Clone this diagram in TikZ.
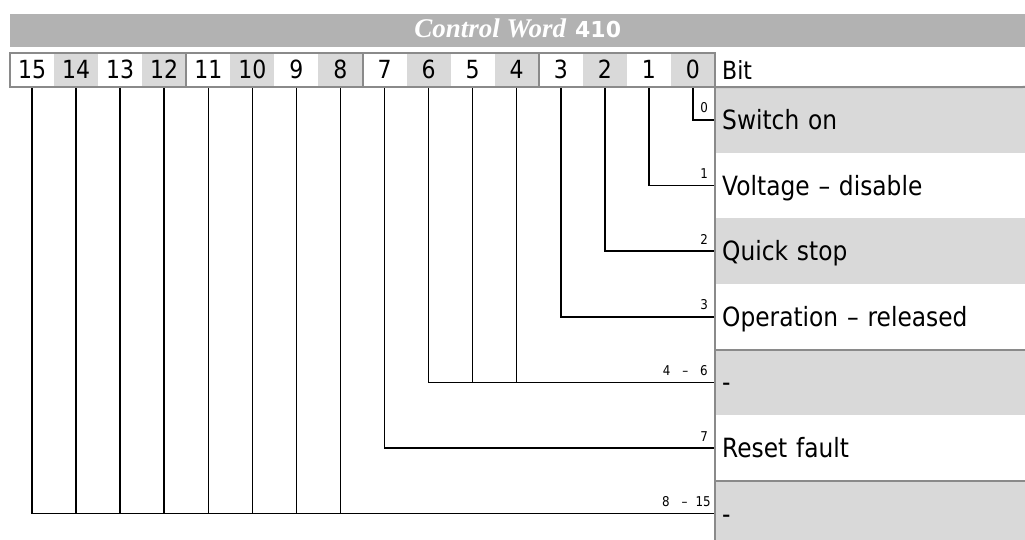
\documentclass[tikz,border=0pt]{standalone}
\usepackage{fontspec}
\setmainfont{DejaVu Sans}[FakeStretch=0.88]
\newfontfamily\titlefont{Liberation Serif}
\newfontfamily\titlenum{DejaVu Sans}
\definecolor{titlegray}{RGB}{178,178,178}
\definecolor{cellgray}{RGB}{217,217,217}
\definecolor{bordergray}{RGB}{138,138,138}
\tikzset{
  bitcell/.style={minimum width=44.0625pt, minimum height=34pt, inner sep=0pt,
    font=\fontsize{25}{28}\selectfont, text height=18pt, text depth=0pt},
  rowcell/.style={anchor=north west, minimum height=65.6pt, text width=296pt,
    inner xsep=7pt, inner ysep=0pt, align=left,
    font=\fontsize{26.5}{30}\selectfont, text height=19pt, text depth=0pt},
  conn/.style={line width=1.5pt, black},
  frame/.style={line width=2pt, bordergray},
  lbl/.style={anchor=base east, inner sep=0pt, font=\fontsize{13.5}{15}\selectfont},
}
\begin{document}
\begin{tikzpicture}[x=1pt,y=1pt]
\useasboundingbox (0,0) rectangle (1025,-540);
\clip (0,0) rectangle (1025,-540);
% title bar
\node[fill=titlegray, minimum width=1015pt, minimum height=33pt, anchor=north west,
  inner sep=0pt, text=white, text height=14pt, text depth=0pt] (title) at (10,-14)
  {{\titlefont\bfseries\itshape\fontsize{27}{30}\selectfont Control Word}\hspace{9pt}{\titlenum\bfseries\fontsize{22}{26}\selectfont 410}};
% right rows
\node[rowcell, fill=cellgray] (r0) at (715,-87) {Switch on};
\node[rowcell, fill=white] (r1) at (715,-152.6) {Voltage – disable};
\node[rowcell, fill=cellgray] (r2) at (715,-218.2) {Quick stop};
\node[rowcell, fill=white] (r3) at (715,-283.8) {Operation – released};
\node[rowcell, fill=cellgray] (r4) at (715,-349.4) {-};
\node[rowcell, fill=white] (r5) at (715,-415) {Reset fault};
\node[rowcell, fill=cellgray] (r6) at (715,-480.6) {-};
% bit cells
\foreach \k in {0,2,...,14}
  \node[bitcell, fill=cellgray] (b\k) at ({10+44.0625*(15-\k+0.5)},-70) {\k};
\foreach \k in {1,3,...,15}
  \node[bitcell, fill=white] (b\k) at ({10+44.0625*(15-\k+0.5)},-70) {\k};
\node[anchor=base west, inner sep=0pt, font=\fontsize{25}{28}\selectfont] (bitlbl) at (722,-80) {Bit};
% connectors
\draw[conn] (b0.south) |- (r0.west);
\draw[conn] (b1.south) |- (r1.west);
\draw[conn] (b2.south) |- (r2.west);
\draw[conn] (b3.south) |- (r3.west);
\draw[conn] (b6.south) |- (r4.west);
\draw[conn] (b5.south) -- (b5.south |- r4.west);
\draw[conn] (b4.south) -- (b4.south |- r4.west);
\draw[conn] (b7.south) |- (r5.west);
\draw[conn] (b15.south) |- (r6.west);
\foreach \k in {8,...,14}
  \draw[conn] (b\k.south) -- (b\k.south |- r6.west);
% small labels
\node[lbl] (l0) at ([xshift=-7pt,yshift=7pt]r0.west) {0};
\node[lbl] (l1) at ([xshift=-7pt,yshift=7pt]r1.west) {1};
\node[lbl] (l2) at ([xshift=-7pt,yshift=7pt]r2.west) {2};
\node[lbl] (l3) at ([xshift=-7pt,yshift=7pt]r3.west) {3};
\node[lbl] (l4) at ([xshift=-7pt,yshift=7pt]r4.west) {4\hspace{12pt}–\hspace{12pt}6};
\node[lbl] (l5) at ([xshift=-7pt,yshift=7pt]r5.west) {7};
\node[lbl] (l6) at ([xshift=-4pt,yshift=7pt]r6.west) {8\hspace{12pt}–\hspace{8pt}15};
% frames
\draw[frame] (b15.north west) rectangle (b0.south east);
\draw[frame] (b12.north east) -- (b12.south east);
\draw[frame] (b8.north east) -- (b8.south east);
\draw[frame] (b4.north east) -- (b4.south east);
\draw[frame] (b0.south east) -- (r0.north east);
\draw[frame] (r0.north west) -- (r6.south west);
\draw[frame] (r3.south west) -- (r3.south east);
\draw[frame] (r5.south west) -- (r5.south east);
\end{tikzpicture}
\end{document}
